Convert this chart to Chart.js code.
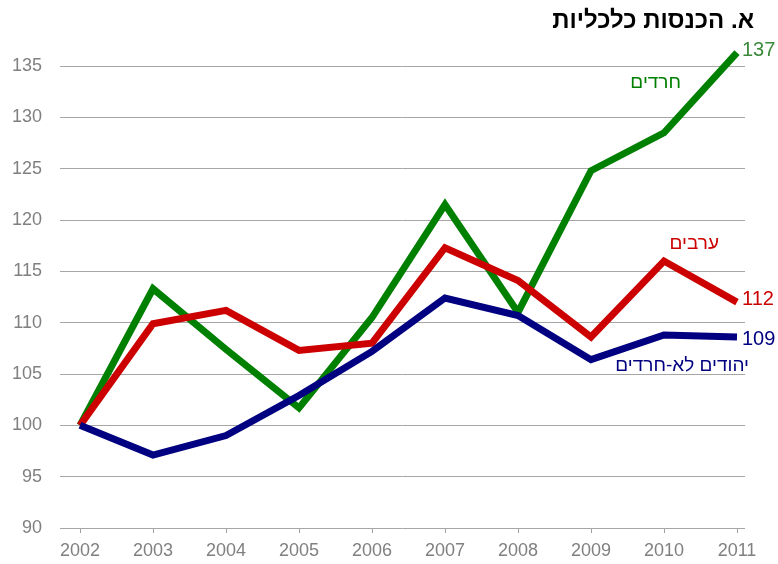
<!DOCTYPE html>
<html>
<head>
<meta charset="utf-8">
<script src="https://cdn.jsdelivr.net/npm/chart.js@4"></script>
<style>
  body { margin: 0; background: #fff; }
  #wrap { width: 778px; height: 564px; }
</style>
</head>
<body>
<div id="wrap"><canvas id="chart" width="778" height="564"></canvas></div>
<script>
const years = [2002, 2003, 2004, 2005, 2006, 2007, 2008, 2009, 2010, 2011];
const haredim = [100, 113.3, 107.4, 101.7, 110.5, 121.5, 111.0, 124.8, 128.5, 136.3];
const arabs = [100, 109.9, 111.2, 107.3, 108.0, 117.3, 114.1, 108.6, 116.0, 112.0];
const jewsNonHaredi = [100, 97.1, 99.0, 102.9, 107.2, 112.4, 110.7, 106.4, 108.8, 108.6];
const yTicks = [90, 95, 100, 105, 110, 115, 120, 125, 130, 135];

const title = "א. הכנסות כלכליות";
const seriesNames = ["חרדים", "ערבים", "יהודים לא-חרדים"];
const endLabels = ["137", "112", "109"];

const green = "#008000";
const red = "#cc0000";
const blue = "#000080";
const gray = "#808080";
const font = "'Liberation Sans', Arial, sans-serif";

const toPoints = (arr) => arr.map((v, i) => ({ x: years[i], y: v }));

const labelsPlugin = {
  id: "labels",
  afterDatasetsDraw(chart) {
    const ctx = chart.ctx;
    const xs = chart.scales.x;
    const ys = chart.scales.y;
    ctx.save();
    ctx.direction = "rtl";
    ctx.textAlign = "right";
    ctx.textBaseline = "alphabetic";
    ctx.fillStyle = "#000";
    ctx.font = "bold 24px " + font;
    ctx.fillText(title, 754, 28);

    ctx.font = "19px " + font;
    ctx.textBaseline = "middle";
    // series names
    ctx.fillStyle = green;
    ctx.fillText(seriesNames[0], 681, ys.getPixelForValue(133.4));
    ctx.fillStyle = red;
    ctx.fillText(seriesNames[1], 719, ys.getPixelForValue(117.7));
    ctx.fillStyle = blue;
    ctx.fillText(seriesNames[2], 749, ys.getPixelForValue(105.8));

    // end values
    ctx.direction = "ltr";
    ctx.textAlign = "left";
    ctx.font = "20px " + font;
    const lastX = xs.getPixelForValue(years[years.length - 1]) + 5;
    ctx.fillStyle = "#3a8a3a";
    ctx.fillText(endLabels[0], lastX, ys.getPixelForValue(136.5));
    ctx.fillStyle = red;
    ctx.fillText(endLabels[1], lastX, ys.getPixelForValue(112.3));
    ctx.fillStyle = blue;
    ctx.fillText(endLabels[2], lastX, ys.getPixelForValue(108.4));
    ctx.restore();
  }
};

new Chart(document.getElementById("chart"), {
  type: "line",
  data: {
    datasets: [
      { label: seriesNames[0], data: toPoints(haredim), borderColor: green },
      { label: seriesNames[1], data: toPoints(arabs), borderColor: red },
      { label: seriesNames[2], data: toPoints(jewsNonHaredi), borderColor: blue },
    ].map((d, i, all) => ({
      ...d,
      borderWidth: 7,
      pointRadius: 0,
      fill: false,
      tension: 0,
      clip: false,
      order: all.length - i,
    })),
  },
  options: {
    responsive: false,
    animation: false,
    events: [],
    layout: { padding: { left: 0, right: 33, top: 66, bottom: 0 } },
    plugins: {
      legend: { display: false },
      tooltip: { enabled: false },
      title: { display: false },
    },
    scales: {
      x: {
        type: "linear",
        min: 2002 - 20 / 73,
        max: 2002 - 20 / 73 + 685 / 73,
        afterBuildTicks: (s) => { s.ticks = years.map((v) => ({ value: v })); },
        afterFit: (s) => { s.height = 36; },
        border: { display: false },
        grid: {
          drawOnChartArea: false,
          drawTicks: true,
          tickLength: 5,
          color: "#a0a0a0",
        },
        ticks: {
          padding: 7,
          color: gray,
          font: { family: font, size: 18 },
          callback: (v) => String(v),
          maxRotation: 0,
          autoSkip: false,
        },
      },
      y: {
        min: 90,
        max: 135,
        afterBuildTicks: (s) => { s.ticks = yTicks.map((v) => ({ value: v })); },
        afterFit: (s) => { s.width = 60; },
        border: { display: false },
        grid: {
          drawTicks: false,
          color: "#a6a6a6",
          lineWidth: 1,
        },
        ticks: {
          padding: 18,
          color: gray,
          font: { family: font, size: 18 },
        },
      },
    },
  },
  plugins: [labelsPlugin],
});
</script>
</body>
</html>
